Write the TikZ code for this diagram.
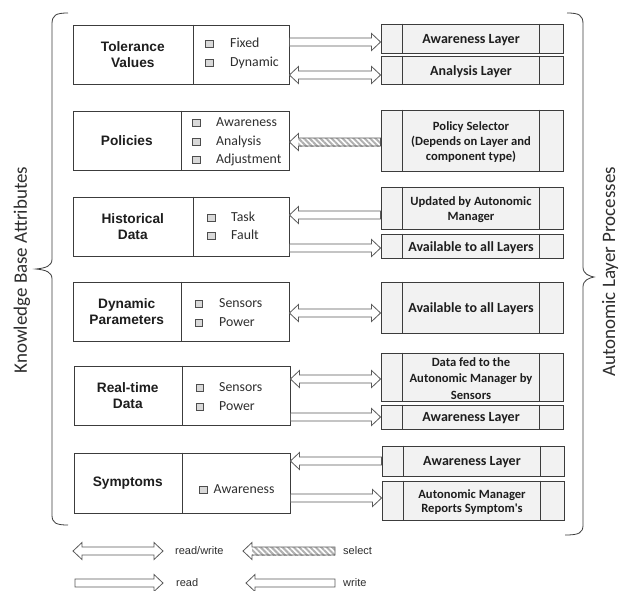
\documentclass[tikz,border=0pt]{standalone}
\usepackage{fontspec}
\setmainfont{Carlito}
\newfontfamily\arialfont{Liberation Sans}
\usetikzlibrary{calc,fit,patterns.meta}

\definecolor{boxline}{HTML}{3C3C3C}
\definecolor{procfill}{HTML}{F2F2F2}
\definecolor{chkfill}{HTML}{D9D9D9}
\definecolor{chkline}{HTML}{4D4D4D}
\definecolor{arrline}{HTML}{5A5A5A}
\definecolor{hatch}{HTML}{B0B0B0}
\definecolor{inktext}{HTML}{1E1E1E}
\definecolor{softtext}{HTML}{2E2E2E}

% block arrows between two points on the same horizontal line
\newcommand\kbRead[3][arr]{\draw[#1] let \p1=(#2), \p2=(#3) in
  (\x1,\y1+4pt) -- (\x2-9pt,\y1+4pt) -- (\x2-9pt,\y1+8.5pt) -- (\x2,\y1)
  -- (\x2-9pt,\y1-8.5pt) -- (\x2-9pt,\y1-4pt) -- (\x1,\y1-4pt) -- cycle;}
\newcommand\kbWrite[3][arr]{\draw[#1] let \p1=(#2), \p2=(#3) in
  (\x1,\y1) -- (\x1+9pt,\y1+8.5pt) -- (\x1+9pt,\y1+4pt) -- (\x2,\y1+4pt)
  -- (\x2,\y1-4pt) -- (\x1+9pt,\y1-4pt) -- (\x1+9pt,\y1-8.5pt) -- cycle;}
\newcommand\kbRW[3][arr]{\draw[#1] let \p1=(#2), \p2=(#3) in
  (\x1,\y1) -- (\x1+9pt,\y1+8.5pt) -- (\x1+9pt,\y1+4pt) -- (\x2-9pt,\y1+4pt)
  -- (\x2-9pt,\y1+8.5pt) -- (\x2,\y1) -- (\x2-9pt,\y1-8.5pt) -- (\x2-9pt,\y1-4pt)
  -- (\x1+9pt,\y1-4pt) -- (\x1+9pt,\y1-8.5pt) -- cycle;}
\newcommand\kbSelect[2]{%
  \fill[hatched] let \p1=(#1), \p2=(#2) in (\x1+9pt,\y1+4pt) rectangle (\x2,\y1-4pt);
  \kbWrite[arrline only]{#1}{#2}}

% process box with two side bands; optional text style
\newcommand\procbox[5][]{%
  \node[pbox, fit={#3 #4}] (#2) {};
  \draw[pdiv] ($(#2.north west)+(22,0)$) -- ($(#2.south west)+(22,0)$)
              ($(#2.north east)+(-24,0)$) -- ($(#2.south east)+(-24,0)$);
  \node[ptext,#1] (#2-t) at ($(#2.center)+(-1,1.5)$) {#5};}

% attribute box with a divider at x = #4
\newcommand\attrbox[5]{%
  \node[kbox, fit={#2 #3}] (#1) {};
  \draw[kdiv] (#4,0 |- #1.north) -- (#4,0 |- #1.south);
  \node[klabel] (#1-l) at ($(#1.west)!0.5!(#4,0 |- #1.west)$) {#5};}

\begin{document}
\begin{tikzpicture}[x=1pt,y=-1pt,
  kbox/.style={draw=boxline, line width=0.9pt, inner sep=0pt, fill=white},
  kdiv/.style={draw=boxline, line width=0.9pt},
  klabel/.style={font=\arialfont\bfseries\fontsize{13.7}{16.5}\selectfont,
    align=center, text=inktext, inner sep=0pt},
  chk/.style={draw=chkline, fill=chkfill, line width=0.7pt, minimum size=7.5pt,
    inner sep=0pt},
  itm/.style={font=\fontsize{13.8}{16}\selectfont, text=softtext, anchor=west,
    inner sep=0pt, text height=9.5pt, text depth=2.5pt},
  pbox/.style={draw=boxline, line width=0.9pt, fill=procfill, inner sep=0pt},
  pdiv/.style={draw=boxline, line width=0.9pt},
  ptext/.style={font=\bfseries\fontsize{14}{16}\selectfont, align=center,
    text=inktext, inner sep=0pt},
  ptwo/.style={font=\bfseries\fontsize{12.6}{14.8}\selectfont},
  pthree/.style={font=\bfseries\fontsize{12.6}{16.5}\selectfont},
  arr/.style={draw=arrline, line width=0.8pt, fill=white, line join=miter},
  arrline only/.style={draw=arrline, line width=0.8pt, line join=miter},
  hatched/.style={pattern={Lines[angle=-45,distance=3.9pt,line width=2pt]},
    pattern color=hatch},
  brace/.style={draw=boxline, line width=0.8pt},
  legend/.style={font=\arialfont\fontsize{11}{13}\selectfont, text=softtext,
    anchor=west, inner sep=0pt},
  side/.style={font=\fontsize{19}{22}\selectfont, text=softtext, rotate=90}]

\fill[white] (0,0) rectangle (623,590);
\useasboundingbox (0,0) rectangle (623,590);

% ---------- knowledge base attributes ----------
\attrbox{tol}{(73,25)}{(289,84)}{193}{Tolerance\\Values}
\node[chk] (tol-c1) at (209.5,44) {};
\node[itm] (tol-i1) at (230,44) {Fixed};
\node[chk] (tol-c2) at (209.5,63) {};
\node[itm] (tol-i2) at (230,63) {Dynamic};

\attrbox{pol}{(73,111)}{(289,170)}{181}{Policies}
\node[chk] (pol-c1) at (196.5,123) {};
\node[itm] (pol-i1) at (216,123) {Awareness};
\node[chk] (pol-c2) at (196.5,142) {};
\node[itm] (pol-i2) at (216,142) {Analysis};
\node[chk] (pol-c3) at (196.5,160) {};
\node[itm] (pol-i3) at (216,160) {Adjustment};

\attrbox{his}{(73,197)}{(289,256)}{193}{Historical\\Data}
\node[chk] (his-c1) at (211.5,218) {};
\node[itm] (his-i1) at (231,218) {Task};
\node[chk] (his-c2) at (211.5,236) {};
\node[itm] (his-i2) at (231,236) {Fault};

\attrbox{dyn}{(73,282)}{(289,341)}{181}{Dynamic\\Parameters}
\node[chk] (dyn-c1) at (199,304) {};
\node[itm] (dyn-i1) at (219,304) {Sensors};
\node[chk] (dyn-c2) at (199,323) {};
\node[itm] (dyn-i2) at (219,323) {Power};

\attrbox{rtd}{(74,366)}{(290,425)}{182}{Real-time\\Data}
\node[chk] (rtd-c1) at (200,388) {};
\node[itm] (rtd-i1) at (219,388) {Sensors};
\node[chk] (rtd-c2) at (200,407) {};
\node[itm] (rtd-i2) at (219,407) {Power};

\attrbox{sym}{(74,453)}{(290,513)}{182}{Symptoms}
\node[chk] (sym-c1) at (203.5,490) {};
\node[itm] (sym-i1) at (213.5,490) {Awareness};

% ---------- autonomic layer processes ----------
\procbox{aw1}{(381,24)}{(563,53)}{Awareness Layer}
\procbox{an1}{(381,56)}{(563,84)}{Analysis Layer}
\procbox[ptwo]{psel}{(381,110)}{(563,171)}{Policy Selector\\(Depends on Layer and\\component type)}
\procbox[ptwo]{upd}{(381,187)}{(563,229)}{Updated by Autonomic\\Manager}
\procbox{av1}{(381,234)}{(563,258)}{Available to all Layers}
\procbox{av2}{(381,282)}{(563,333)}{Available to all Layers}
\procbox[pthree]{dfed}{(381,353)}{(563,401)}{Data fed to the\\Autonomic Manager by\\Sensors}
\procbox{aw2}{(381,405)}{(563,429)}{Awareness Layer}
\procbox{aw3}{(382,446)}{(564,476)}{Awareness Layer}
\procbox[ptwo]{rep}{(382,481)}{(564,520)}{Autonomic Manager\\Reports Symptom\textquotesingle s}

% ---------- connectors ----------
\kbRead{tol.east |- 0,42}{aw1.west |- 0,42}
\kbRW{tol.east |- 0,75}{an1.west |- 0,75}
\kbSelect{pol.east |- 0,142}{psel.west |- 0,142}
\kbWrite{his.east |- 0,215}{upd.west |- 0,215}
\kbRead{his.east |- 0,248}{av1.west |- 0,248}
\kbRW{dyn.east |- 0,313}{av2.west |- 0,313}
\kbRW{rtd.east |- 0,379}{dfed.west |- 0,379}
\kbRead{rtd.east |- 0,417}{aw2.west |- 0,417}
\kbWrite{sym.east |- 0,461}{aw3.west |- 0,461}
\kbRead{sym.east |- 0,498}{rep.west |- 0,498}

% ---------- braces and side titles ----------
\draw[brace] (68,13) .. controls (56,13) and (52,15) .. (52,24) -- (52,259)
  .. controls (52,266) and (46,268) .. (36,269)
  .. controls (46,270) and (52,272) .. (52,279) -- (52,515)
  .. controls (52,523) and (56,525) .. (68,525);
\draw[brace] (567,13) .. controls (579,13) and (583,15) .. (583,24) -- (583,267)
  .. controls (583,274) and (589,276) .. (594,277)
  .. controls (589,278) and (583,280) .. (583,287) -- (583,525)
  .. controls (583,533) and (579,535) .. (565,535);
\node[side] (kbtitle) at (22,270) {Knowledge Base Attributes};
\node[side] (altitle) at (610,272) {Autonomic Layer Processes};

% ---------- legend ----------
\coordinate (lg-rw-a) at (73,551);  \coordinate (lg-rw-b) at (163,551);
\coordinate (lg-se-a) at (243,551); \coordinate (lg-se-b) at (335,551);
\coordinate (lg-rd-a) at (75,583);  \coordinate (lg-rd-b) at (163,583);
\coordinate (lg-wr-a) at (246,583); \coordinate (lg-wr-b) at (335,583);
\kbRW{lg-rw-a}{lg-rw-b}
\kbSelect{lg-se-a}{lg-se-b}
\kbRead{lg-rd-a}{lg-rd-b}
\kbWrite{lg-wr-a}{lg-wr-b}
\node[legend] (lg-rw-t) at (175,551) {read/write};
\node[legend] (lg-se-t) at (343,551) {select};
\node[legend] (lg-rd-t) at (176,583) {read};
\node[legend] (lg-wr-t) at (343,583) {write};
\end{tikzpicture}
\end{document}
